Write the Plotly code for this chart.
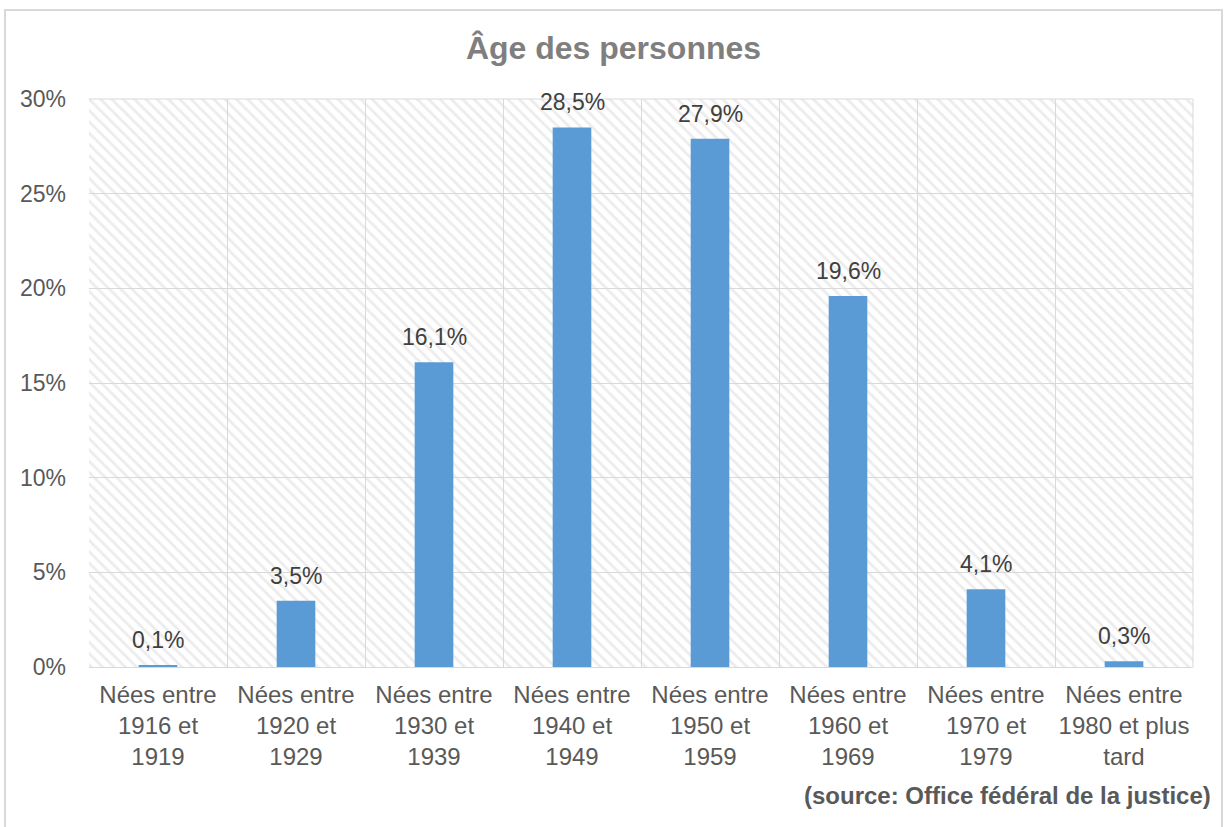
import plotly.graph_objects as go

categories = ["Nées entre<br>1916 et<br>1919", "Nées entre<br>1920 et<br>1929", "Nées entre<br>1930 et<br>1939",
              "Nées entre<br>1940 et<br>1949", "Nées entre<br>1950 et<br>1959", "Nées entre<br>1960 et<br>1969",
              "Nées entre<br>1970 et<br>1979", "Nées entre<br>1980 et plus<br>tard"]
values = [0.1, 3.5, 16.1, 28.5, 27.9, 19.6, 4.1, 0.3]
y_max = 30
y_ticks = [0, 5, 10, 15, 20, 25, 30]
y_tick_labels = ["0%", "5%", "10%", "15%", "20%", "25%", "30%"]

FONT = "Liberation Sans, Arial"

fig = go.Figure()
# hatched plot-area background
fig.add_trace(go.Bar(
    x=categories, y=[y_max] * len(categories), width=1,
    marker=dict(color="rgba(0,0,0,0)", line=dict(width=0),
                pattern=dict(shape="\\", fgcolor="#dadada", bgcolor="rgba(0,0,0,0)", size=8, solidity=0.35)),
    hoverinfo="skip", showlegend=False,
))
fig.add_trace(go.Bar(
    x=categories, y=values, width=0.28,
    marker=dict(color="#5b9bd5", line=dict(width=0)),
    showlegend=False,
))

annotations = [dict(x=c, y=v, text=f"{v:.1f}%".replace(".", ","), xref="x", yref="y",
                    showarrow=False, yanchor="middle", yshift=25,
                    font=dict(family=FONT, size=23, color="#404040"))
               for c, v in zip(categories, values)]
annotations.append(dict(text="<b>(source: Office fédéral de la justice)</b>", xref="paper", yref="paper",
                        x=(1213 - 89) / 1104, y=-(795 - 667) / 568, xanchor="right", yanchor="middle",
                        showarrow=False, font=dict(family=FONT, size=24, color="#595959")))

fig.update_layout(
    width=1227, height=827,
    margin=dict(l=89, r=34, t=99, b=160),
    paper_bgcolor="white", plot_bgcolor="white",
    barmode="overlay",
    font=dict(family=FONT, size=23, color="#595959"),
    title=dict(text="<b>Âge des personnes</b>", x=613.5 / 1227, xref="container", xanchor="center",
               y=1 - 48 / 827, yref="container", yanchor="middle",
               font=dict(family=FONT, size=32, color="#7f7f7f")),
    xaxis=dict(type="category", tickson="boundaries", showgrid=True, gridcolor="#d9d9d9", gridwidth=1,
               showline=True, linecolor="#d9d9d9", linewidth=1, ticks="", ticklabelstandoff=6,
               tickangle=0, automargin=False,
               tickfont=dict(family=FONT, size=24, color="#595959")),
    yaxis=dict(range=[0, y_max], tickvals=y_ticks, ticktext=y_tick_labels, showgrid=True, gridcolor="#d9d9d9",
               gridwidth=1, zeroline=False, showline=False, ticks="", ticklabelstandoff=22, automargin=False,
               tickfont=dict(family=FONT, size=23, color="#595959")),
    shapes=[dict(type="rect", xref="paper", yref="paper",
                 x0=(5 - 89) / 1104, x1=(1222 - 89) / 1104,
                 y0=-(840 - 667) / 568, y1=1 + (99 - 10) / 568,
                 line=dict(color="#d9d9d9", width=2), fillcolor="rgba(0,0,0,0)", layer="below"),
            dict(type="line", xref="paper", yref="paper", x0=0, x1=1, y0=1, y1=1,
                 line=dict(color="#d9d9d9", width=1)),
            dict(type="line", xref="paper", yref="paper", x0=1, x1=1, y0=0, y1=1,
                 line=dict(color="#d9d9d9", width=1))],
    annotations=annotations,
)

fig.write_html("out.html", config={"displayModeBar": False},
               post_script="document.body.style.margin='0';")
